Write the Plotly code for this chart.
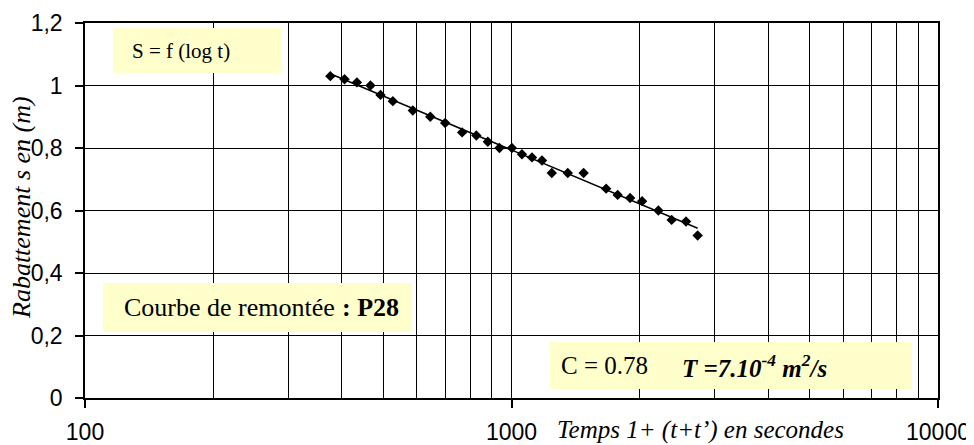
import numpy as np
import plotly.graph_objects as go

# ---- data ----
temps = [376, 406, 434, 467, 493, 527, 587, 645, 699, 766, 827, 880, 937, 1002,
         1058, 1117, 1179, 1243, 1355, 1476, 1667, 1774, 1897, 2024, 2210, 2374,
         2566, 2732]
rabattement = [1.03, 1.02, 1.01, 1.00, 0.97, 0.95, 0.92, 0.90, 0.88, 0.85, 0.84,
               0.82, 0.80, 0.80, 0.78, 0.77, 0.76, 0.72, 0.72, 0.72, 0.67, 0.65,
               0.64, 0.63, 0.60, 0.57, 0.565, 0.52]
x_tickvals = [100, 1000, 10000]
x_ticktext = ["100", "1000", "10000"]
x_minorvals = [200, 300, 400, 500, 600, 700, 800, 900,
               2000, 3000, 4000, 5000, 6000, 7000, 8000, 9000]
y_tickvals = [0, 0.2, 0.4, 0.6, 0.8, 1.0, 1.2]
y_ticktext = ["0", "0,2", "0,4", "0,6", "0,8", "1", "1,2"]

# logarithmic trendline (least squares, like the spreadsheet trendline)
b, a = np.polyfit(np.log10(temps), rabattement, 1)
trend_x = [min(temps), max(temps)]
trend_y = [a + b * np.log10(v) for v in trend_x]

# ---- layout (page offset of 8 px from the default body margin) ----
W, H = 974, 445
OFF = 8
X0, X1, Y0, Y1 = 85, 938, 23, 398          # plot area in page pixels
L, T = X0 - OFF, Y0 - OFF
R, B = W - (X1 - OFF), H - (Y1 - OFF)
PW, PH = X1 - X0, Y1 - Y0


def px(x):
    return (x - X0) / PW


def py(y):
    return (Y1 - y) / PH


fig = go.Figure()
fig.add_trace(go.Scatter(x=trend_x, y=trend_y, mode="lines",
                         line=dict(color="black", width=1.5),
                         showlegend=False, hoverinfo="skip"))
fig.add_trace(go.Scatter(x=temps, y=rabattement, mode="markers",
                         marker=dict(symbol="diamond", size=8, color="black"),
                         showlegend=False))

SANS = "Liberation Sans, Arial, sans-serif"
SERIF = "Liberation Serif, Times New Roman, serif"

fig.update_layout(
    width=W, height=H, autosize=False,
    margin=dict(l=L, r=R, t=T, b=B, pad=0, autoexpand=False),
    paper_bgcolor="white", plot_bgcolor="white",
    xaxis=dict(type="log", range=[2, 4], tickvals=x_tickvals, ticktext=x_ticktext,
               ticks="outside", ticklen=8, tickwidth=1.5, tickcolor="black",
               showline=True, linecolor="black", linewidth=1.5, mirror=True,
               showgrid=True, gridcolor="black", gridwidth=1.3, zeroline=False,
               tickfont=dict(family=SANS, size=23, color="black"),
               ticklabelstandoff=5, automargin=False,
               minor=dict(tickvals=x_minorvals, showgrid=True, gridcolor="black",
                          gridwidth=1.3, ticks="")),
    yaxis=dict(range=[0, 1.2], tickvals=y_tickvals, ticktext=y_ticktext,
               ticks="outside", ticklen=8, tickwidth=1.5, tickcolor="black",
               showline=True, linecolor="black", linewidth=1.5, mirror=True,
               showgrid=True, gridcolor="black", gridwidth=1.3, zeroline=False,
               tickfont=dict(family=SANS, size=23, color="black"),
               ticklabelstandoff=8, automargin=False),
)

YEL = "#FFFFCC"
boxes = [(113, 28, 282, 73), (103, 283, 412, 332), (550, 342, 912, 389)]
for x0, y0, x1, y1 in boxes:
    fig.add_shape(type="rect", xref="paper", yref="paper",
                  x0=px(x0), x1=px(x1), y0=py(y0), y1=py(y1),
                  fillcolor=YEL, line=dict(width=0), layer="above")


def note(text, x, y, size, angle=0, xanchor="left", style="normal",
         weight="normal"):
    fig.add_annotation(text=text, xref="paper", yref="paper", x=px(x), y=py(y),
                       xanchor=xanchor, yanchor="middle", showarrow=False,
                       textangle=angle, borderpad=0,
                       font=dict(family=SERIF, size=size, color="black",
                                 style=style, weight=weight))


note("S = f (log t)", 131, 50.5, 21)
note("Courbe de remontée", 123, 307.5, 26)
note(": P28", 341, 307.5, 26, weight="bold")
note("C = 0.78", 560, 365.5, 25)
note("T =7.10<sup>-4</sup> m<sup>2</sup>/s", 681, 365.5, 25,
     style="italic", weight="bold")
note("Temps 1+ (t+t’) en secondes", 556, 430, 25, style="italic")
note("Rabattement s en (m)", 22, 208, 26, angle=-90, xanchor="center",
     style="italic")

fig.write_html("out.html")
